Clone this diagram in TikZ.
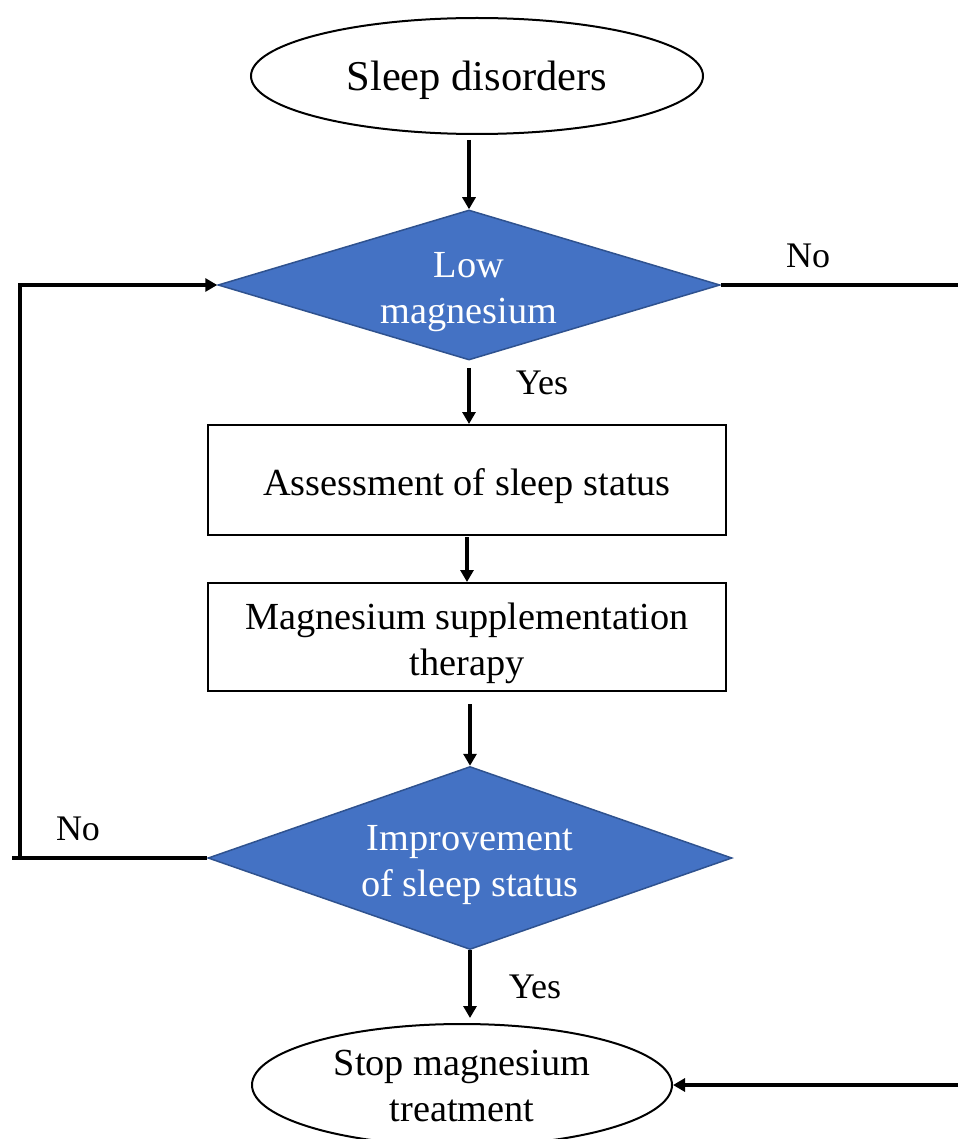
\documentclass[tikz,border=0pt]{standalone}
\usepackage{fontspec}
\setmainfont{Liberation Serif}
\usetikzlibrary{shapes.geometric,arrows.meta}
\definecolor{dblue}{HTML}{4472C4}
\definecolor{dborder}{HTML}{2F528F}
\tikzset{
  ovalbox/.style={ellipse,draw=black,line width=2pt,inner sep=0pt,align=center,fill=white},
  rectbox/.style={rectangle,draw=black,line width=2pt,inner sep=0pt,align=center,minimum width=518pt},
  decbox/.style={diamond,draw=dborder,fill=dblue,line width=1.5pt,inner sep=0pt,align=center},
  arr/.style={line width=3.5pt,-{Triangle[width=13pt,length=12pt]}},
  ln/.style={line width=3.5pt},
  lbl/.style={font=\fontsize{36}{42}\selectfont,inner sep=0pt},
  txt/.style={font=\fontsize{38.3}{46}\selectfont,align=center,inner sep=0pt},
  wtxt/.style={txt,text=white}
}
\begin{document}
\begin{tikzpicture}[x=1pt,y=-1pt]
\useasboundingbox (0,0) rectangle (958,1139);
\node[ovalbox,minimum width=452pt,minimum height=116pt,
  label={[txt,font=\fontsize{42.5}{50}\selectfont,yshift=-4pt]center:Sleep disorders}] (e1) at (477,76) {};
\node[decbox,minimum width=502pt,minimum height=150pt,
  label={[wtxt,yshift=-7pt]center:{Low\\magnesium}}] (d1) at (469,285) {};
\node[rectbox,minimum height=110pt,
  label={[txt,yshift=-6pt]center:Assessment of sleep status}] (r1) at (467,480) {};
\node[rectbox,minimum height=108pt,
  label={[txt,yshift=-6pt]center:{Magnesium supplementation\\therapy}}] (r2) at (467,637) {};
\node[decbox,minimum width=524pt,minimum height=183pt,
  label={[wtxt,yshift=-7pt]center:{Improvement\\of sleep status}}] (d2) at (470,858) {};
\node[ovalbox,minimum width=420pt,minimum height=122pt,
  label={[txt,yshift=-1pt]center:{Stop magnesium\\treatment}}] (e2) at (462,1085) {};

\coordinate (rt) at (958,285);
\coordinate (rb) at (958,1085);
\coordinate (lb) at (12,858);
\coordinate (lc) at (20,858);

\draw[arr,shorten <=5pt] (d1.north |- e1.south) -- (d1.north);
\draw[arr,shorten <=7pt] (d1.south) -- (d1.south |- r1.north);
\draw[arr,shorten <=1pt] (r1.south) -- (r2.north);
\draw[arr,shorten <=12pt] (d2.north |- r2.south) -- (d2.north);
\draw[arr,shorten >=5pt] (d2.south) -- (d2.south |- e2.north);
\draw[ln] (d1.east) -- (rt);
\draw[arr] (rb) -- (e2.east);
\draw[ln] (d2.west) -- (lb);
\draw[arr] (lc) |- (d1.west);

\node[lbl] (y1) at (542,383) {Yes};
\node[lbl] (y2) at (535,987) {Yes};
\node[lbl] (n1) at (808,256) {No};
\node[lbl] (n2) at (78,829) {No};
\end{tikzpicture}
\end{document}
